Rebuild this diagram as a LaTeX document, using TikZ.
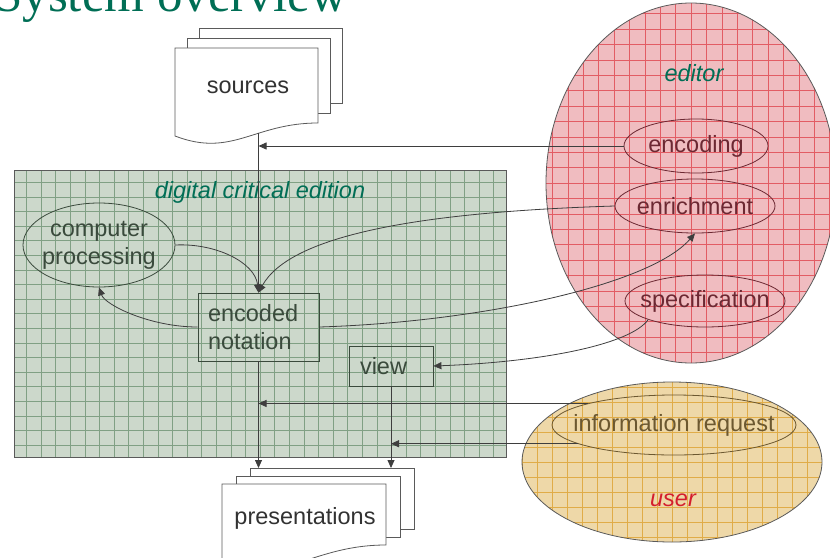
\documentclass[tikz,border=0pt]{standalone}
\usepackage{fontspec}
\setmainfont{Liberation Sans}
\newfontfamily\titlefont{Liberation Serif}
\usetikzlibrary{arrows.meta,shapes.geometric}

\definecolor{titleteal}{RGB}{0,110,85}
\definecolor{userred}{RGB}{212,30,45}
\definecolor{linegrey}{RGB}{62,62,62}
\definecolor{papergrey}{RGB}{90,90,90}
\definecolor{inkgrey}{RGB}{50,50,50}
\definecolor{edfill}{RGB}{204,216,203}
\definecolor{edgrid}{RGB}{128,160,132}
\definecolor{edink}{RGB}{58,74,60}
\definecolor{editorfill}{RGB}{240,188,192}
\definecolor{editorgrid}{RGB}{226,92,100}
\definecolor{editorink}{RGB}{108,40,50}
\definecolor{userfill}{RGB}{238,216,168}
\definecolor{usergrid}{RGB}{224,172,72}
\definecolor{userink}{RGB}{108,88,48}

\newcommand{\nowidth}[1]{\makebox[0pt]{#1}}

% x, y, width, left height, right height, dx, dy
\newcommand{\paperstack}[7]{%
  \draw[paper] (#1+2*#6,#2-2*#7) rectangle ++(#3,#5);
  \draw[paper] (#1+#6,#2-#7) rectangle ++(#3,#5);
  \draw[paper] (#1,#2) -- ++(#3,0) -- ++(0,#5)
    .. controls (#1+0.55*#3,#2+#5) and (#1+0.4*#3,#2+#4+22) .. (#1,#2+#4) -- cycle;
}

\begin{document}
\begin{tikzpicture}[x=1pt,y=-1pt,
    every node/.style={font=\fontsize{23.5}{28}\selectfont, text=inkgrey},
    paper/.style={draw=papergrey, fill=white, line width=0.8pt},
    flow/.style={draw=linegrey, line width=0.8pt, -{Triangle[length=8pt,width=7pt]}},
    blob/.style={ellipse, draw, line width=0.8pt, inner sep=0pt},
    box/.style={rectangle, draw, line width=0.8pt, inner sep=0pt, align=left},
    tag/.style={font=\fontsize{23.5}{28}\selectfont\itshape},
    region/.style={draw=papergrey, line width=0.8pt, inner sep=0pt},
    edition region/.style={region, rectangle, fill=edfill,
      path picture={\draw[edgrid, line width=0.4pt] (path picture bounding box.south west)
        grid[step=14.6pt] (path picture bounding box.north east);}},
    editor region/.style={region, ellipse, fill=editorfill,
      path picture={\draw[editorgrid, line width=0.4pt] (path picture bounding box.south west)
        grid[step=15.4pt] (path picture bounding box.north east);}},
    user region/.style={region, ellipse, fill=userfill,
      path picture={\draw[usergrid, line width=0.4pt] (path picture bounding box.south west)
        grid[step=15pt] (path picture bounding box.north east);}}]

  \useasboundingbox (0,0) rectangle (830,557);

  \node[anchor=base west, inner sep=0pt, text=titleteal,
        font=\titlefont\fontsize{51}{51}\selectfont] (title) at (-6,11) {System overview};

  % regions
  \node[edition region, minimum width=492pt, minimum height=287pt] (edition) at (260,313.5) {};
  \node[editor region, minimum width=290pt, minimum height=360pt] (editor) at (691,183) {};
  \node[user region, minimum width=300pt, minimum height=160pt] (user) at (672,462) {};

  \node[tag, text=titleteal] (editionlabel) at (260,192) {digital critical edition};
  \node[tag, text=titleteal] (editorlabel) at (694,73) {editor};
  \node[tag, text=userred] (userlabel) at (673,500) {user};

  % documents
  \paperstack{175}{48}{143}{88}{75}{12}{10}
  \paperstack{222}{484}{164}{78}{61}{14}{8}
  \node (sources) at (248,87) {sources};
  \node[anchor=base] (presentations) at (305,524) {presentations};
  \coordinate (srcfoot) at (258.5,133);
  \coordinate (prestop) at (0,468);

  % inside the edition
  \node[blob, minimum width=152pt, minimum height=84pt, draw=edink, text=edink] (compproc)
    at (99,245) {\nowidth{\begin{tabular}{@{}c@{}}computer\\processing\end{tabular}}};
  \node[box, minimum width=121pt, minimum height=68pt, text width=101pt, draw=edink, text=edink]
    (encoded) at (258.5,327) {encoded\\notation};
  \node[box, minimum width=84pt, minimum height=40pt, text width=62pt, draw=edink, text=edink]
    (view) at (391,366) {view};

  % editor and user tasks
  \node[blob, minimum width=144pt, minimum height=54pt, draw=editorink, text=editorink]
    (encoding) at (696,146) {\nowidth{encoding}};
  \node[blob, minimum width=160pt, minimum height=54pt, draw=editorink, text=editorink]
    (enrichment) at (695,206) {\nowidth{enrichment}};
  \node[blob, minimum width=160pt, minimum height=52pt, draw=editorink, text=editorink]
    (specification) at (705,301) {\nowidth{specification}};
  \node[blob, minimum width=244pt, minimum height=60pt, draw=userink, text=userink]
    (inforeq) at (674,425) {\nowidth{information request}};

  % connectors
  \draw[flow] (srcfoot) -- (encoded.north);
  \draw[flow] (encoding.west) -- (encoding.west -| encoded.north);
  \draw[flow] (compproc.east) .. controls (215,243) and (255,262) .. (encoded.north);
  \draw[flow] (enrichment.west) .. controls (420,212) and (290,235) .. (encoded.north);
  \draw[flow] (encoded.west) .. controls (150,327) and (105,305) .. (compproc.south);
  \draw[flow] (encoded.east) .. controls (480,322) and (650,285) .. (enrichment.south);
  \draw[flow] (specification.south west) .. controls (630,345) and (540,362) .. (view.east);
  \draw[flow] (inforeq.166) -- (inforeq.166 -| encoded.south);
  \draw[flow] (inforeq.191) -- (inforeq.191 -| view.south);
  \draw[flow] (encoded.south) -- (encoded.south |- prestop);
  \draw[flow] (view.south) -- (view.south |- prestop);
\end{tikzpicture}
\end{document}
